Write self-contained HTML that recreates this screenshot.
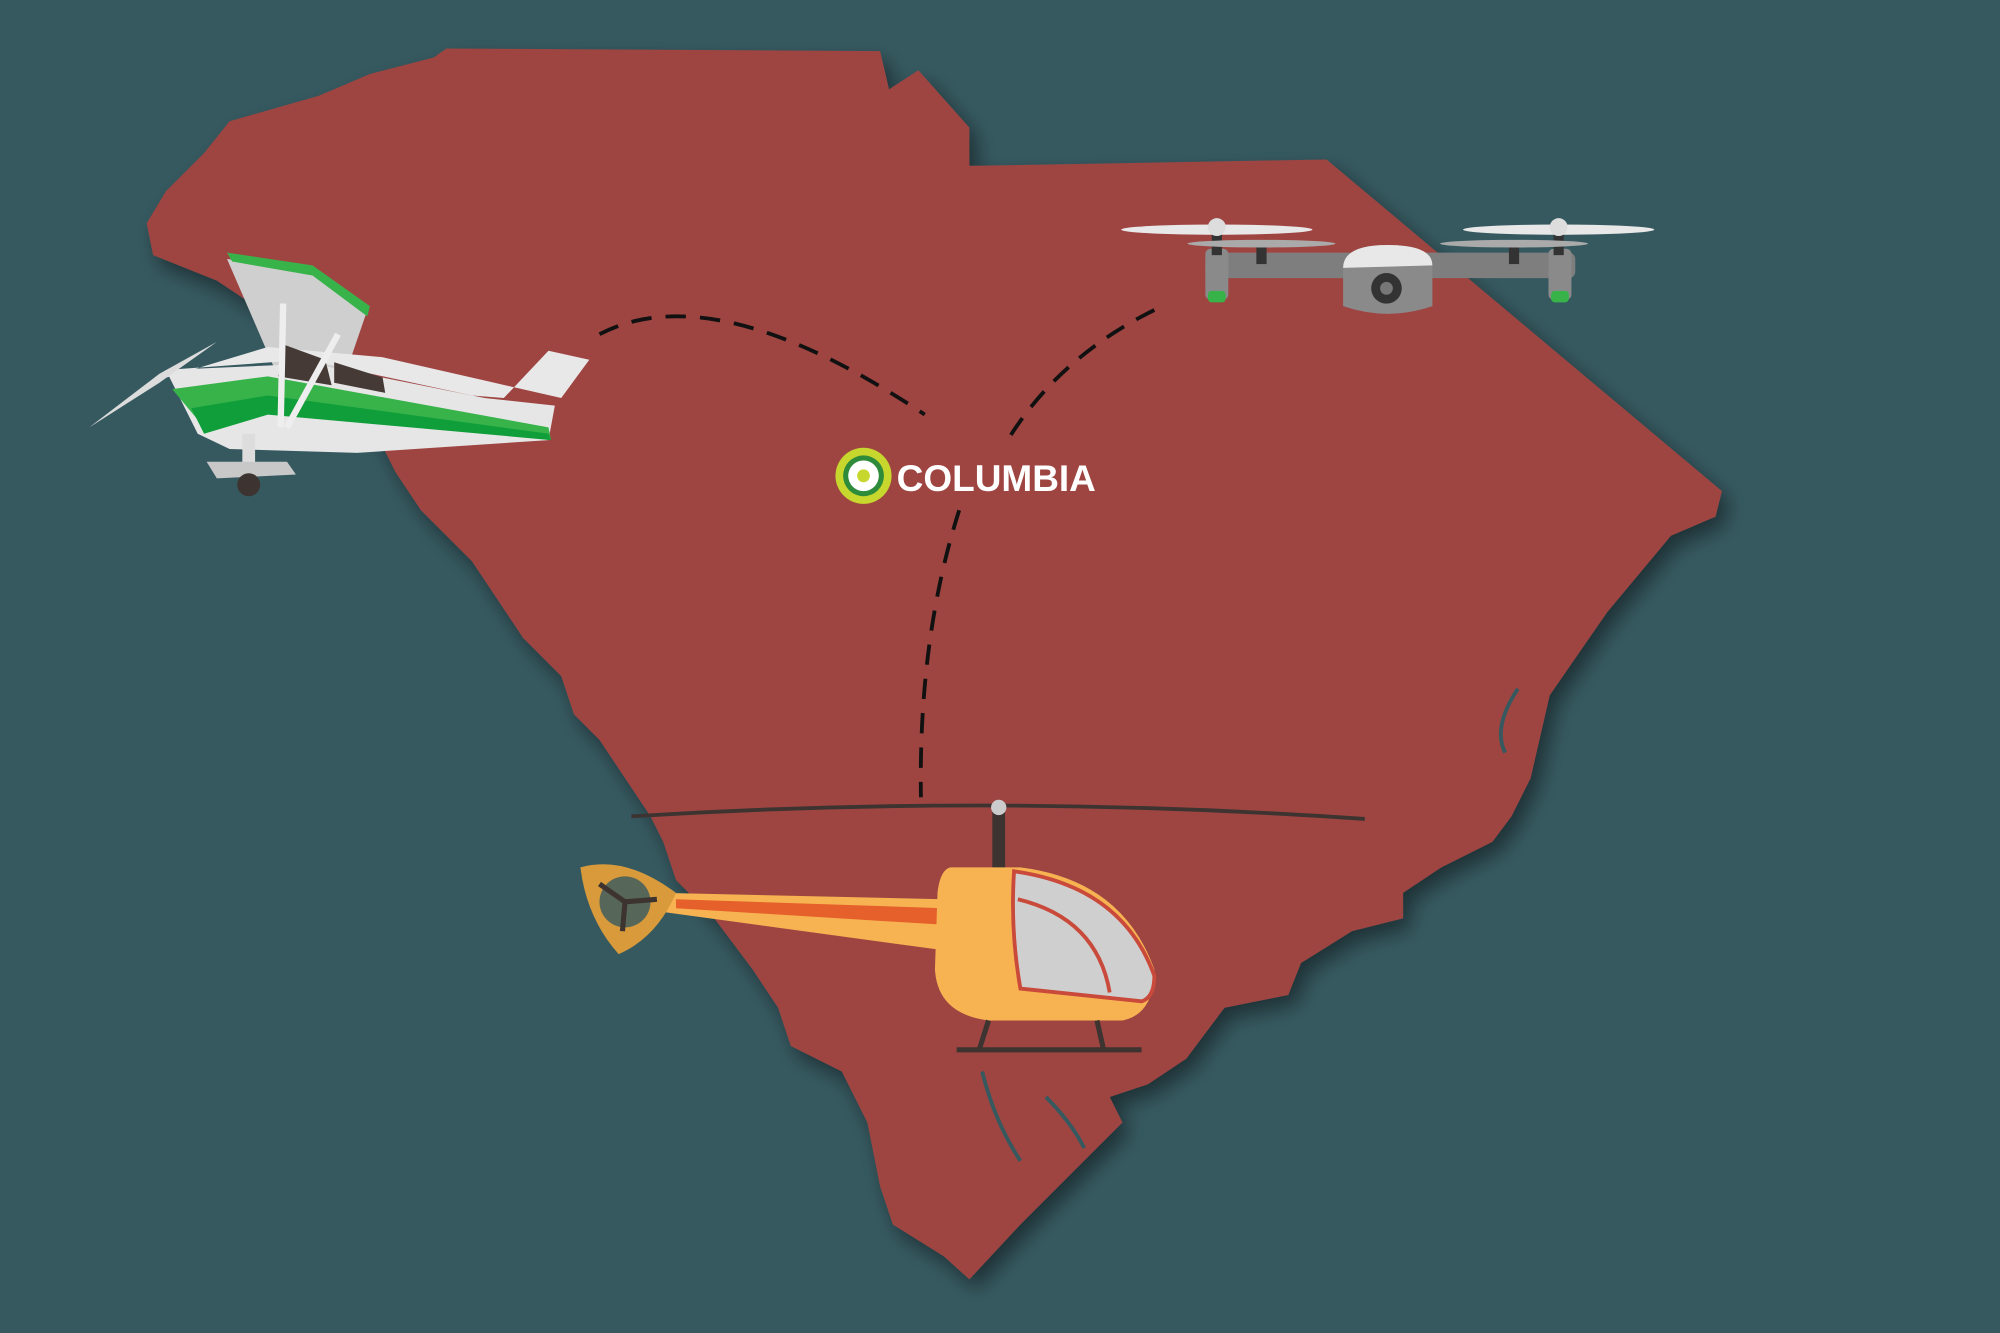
<!DOCTYPE html>
<html><head><meta charset="utf-8"><style>
html,body{margin:0;padding:0;background:#365960;width:2000px;height:1333px;overflow:hidden}
svg{display:block}
</style></head><body>
<svg width="2000" height="1333" viewBox="0 0 1568 1045" xmlns="http://www.w3.org/2000/svg">
<defs>
<filter id="sh" x="-10%" y="-10%" width="130%" height="130%"><feGaussianBlur in="SourceAlpha" stdDeviation="8"/><feOffset dx="6" dy="8"/><feComponentTransfer><feFuncA type="linear" slope="0.45"/></feComponentTransfer><feMerge><feMergeNode/><feMergeNode in="SourceGraphic"/></feMerge></filter>
</defs>
<rect width="1568" height="1045" fill="#365960"/>
<path filter="url(#sh)" fill="#9e4542" d="M350,38 L690,40 L697,70 L720,55 L760,100 L760,130 L1040,125 L1350,385 L1345,405 L1310,420 L1260,480 L1215,545 L1200,610 L1185,640 L1170,660 L1130,680 L1100,700 L1100,720 L1060,730 L1020,755 L1010,780 L960,790 L930,830 L900,850 L870,860 L880,880 L830,930 L800,960 L760,1003 L740,985 L700,960 L690,930 L680,880 L660,840 L620,820 L610,790 L590,760 L560,720 L530,690 L520,660 L510,640 L490,610 L470,580 L450,560 L440,530 L410,500 L390,470 L370,440 L330,400 L310,370 L290,330 L270,300 L230,260 L170,220 L120,200 L115,175 L130,150 L160,120 L180,95 L250,75 L290,58 L340,45 Z"/>
<g fill="none" stroke="#365960" stroke-width="3">
<path d="M1190,540 Q1170,570 1180,590"/>
<path d="M770,840 Q780,880 800,910"/>
<path d="M820,860 Q840,880 850,900"/>
</g>
<g fill="none" stroke="#111" stroke-width="3" stroke-dasharray="16,11">
<path d="M470,262 Q560,215 725,325"/>
<path d="M905,243 Q830,280 790,345"/>
<path d="M752,400 Q720,500 722,625"/>
</g>
<circle cx="677" cy="373" r="22" fill="#c8d72e"/>
<circle cx="677" cy="373" r="16" fill="#2e8b3a"/>
<circle cx="677" cy="373" r="12" fill="#fff"/>
<circle cx="677" cy="373" r="5" fill="#c8d72e"/>
<text x="703" y="385" font-family="Liberation Sans, sans-serif" font-weight="bold" font-size="29" fill="#fff">COLUMBIA</text>
<g>
<polygon points="178,203 245,212 288,243 265,310 220,300" fill="#cfcfcf"/>
<polygon points="178,198 245,208 290,240 288,248 245,216 182,205" fill="#37b34a"/>
<polygon points="127,297 210,272 300,280 440,312 462,282 430,275 395,312 370,310 240,282 130,290" fill="#e8e8e8"/>
<polygon points="130,290 245,285 380,312 435,318 430,345 280,355 180,352 155,340" fill="#e6e6e6"/>
<polygon points="135,305 210,295 430,335 432,345 210,320 160,335" fill="#37b34a"/>
<polygon points="150,320 210,310 430,340 432,345 210,325 160,340" fill="#0f9e3a"/>
<polygon points="222,270 255,282 260,302 218,295" fill="#453a36"/>
<polygon points="262,284 300,296 302,308 262,300" fill="#453a36"/>
<line x1="222" y1="238" x2="220" y2="335" stroke="#eee" stroke-width="5"/>
<line x1="265" y1="262" x2="225" y2="335" stroke="#eee" stroke-width="5"/>
<polygon points="70,335 125,293 170,268 125,300" fill="#dcdcdc"/>
<rect x="190" y="340" width="10" height="25" fill="#ddd"/>
<polygon points="162,362 225,362 232,372 170,375" fill="#c8c8c8"/>
<circle cx="195" cy="380" r="9" fill="#3d3330"/>
</g>
<g>
<rect x="945" y="198" width="290" height="20" rx="5" fill="#7e7e7e"/>
<rect x="945" y="195" width="18" height="40" rx="4" fill="#8a8a8a"/>
<rect x="1214" y="195" width="18" height="40" rx="4" fill="#8a8a8a"/>
<rect x="947" y="228" width="14" height="9" rx="3" fill="#37b34a"/>
<rect x="1216" y="228" width="14" height="9" rx="3" fill="#37b34a"/>
<path d="M1053,210 Q1053,192 1088,192 Q1123,192 1123,210 L1123,240 Q1088,252 1053,240 Z" fill="#8a8a8a"/>
<path d="M1053,210 Q1053,192 1088,192 Q1123,192 1123,208 Z" fill="#e8e8e8"/>
<circle cx="1087" cy="226" r="12" fill="#333"/><circle cx="1087" cy="226" r="5" fill="#777"/>
<rect x="950" y="180" width="8" height="20" fill="#333"/><rect x="1218" y="180" width="8" height="20" fill="#333"/>
<rect x="985" y="192" width="8" height="15" fill="#333"/><rect x="1183" y="192" width="8" height="15" fill="#333"/>
<ellipse cx="954" cy="180" rx="75" ry="4" fill="#e8e8e8"/>
<ellipse cx="1222" cy="180" rx="75" ry="4" fill="#e8e8e8"/>
<ellipse cx="989" cy="191" rx="58" ry="3" fill="#aaa"/>
<ellipse cx="1187" cy="191" rx="58" ry="3" fill="#aaa"/>
<circle cx="954" cy="178" r="7" fill="#ddd"/><circle cx="1222" cy="178" r="7" fill="#ddd"/>
</g>
<g>
<path d="M495,640 Q780,622 1070,642" fill="none" stroke="#3d3330" stroke-width="3"/>
<rect x="778" y="635" width="10" height="50" fill="#3d3330"/>
<circle cx="783" cy="633" r="6" fill="#ccc"/>
<polygon points="520,700 740,705 740,745 520,715" fill="#f7b352"/>
<polygon points="530,705 740,712 740,725 530,712" fill="#e5602a"/>
<path d="M455,680 Q490,670 530,700 Q515,735 485,748 Q460,720 455,680 Z" fill="#d89a3a"/>
<circle cx="490" cy="707" r="20" fill="#365960" opacity="0.8"/>
<g stroke="#3d3330" stroke-width="4"><line x1="490" y1="707" x2="470" y2="693"/><line x1="490" y1="707" x2="515" y2="705"/><line x1="490" y1="707" x2="488" y2="730"/></g>
<path d="M745,680 L800,680 Q880,690 905,760 Q905,795 880,800 L775,800 Q735,795 733,760 L735,700 Q737,682 745,680 Z" fill="#f7b352"/>
<path d="M795,683 Q880,695 905,765 Q905,782 895,785 L800,775 Q792,730 795,683 Z" fill="#cfcfcf" stroke="#c94a3a" stroke-width="3"/>
<path d="M798,705 Q860,720 870,778" fill="none" stroke="#c94a3a" stroke-width="3"/>
<g stroke="#3d3330" stroke-width="4" fill="none"><line x1="775" y1="800" x2="768" y2="822"/><line x1="860" y1="800" x2="865" y2="822"/><line x1="750" y1="823" x2="895" y2="823"/></g>
</g>
</svg>
</body></html>
